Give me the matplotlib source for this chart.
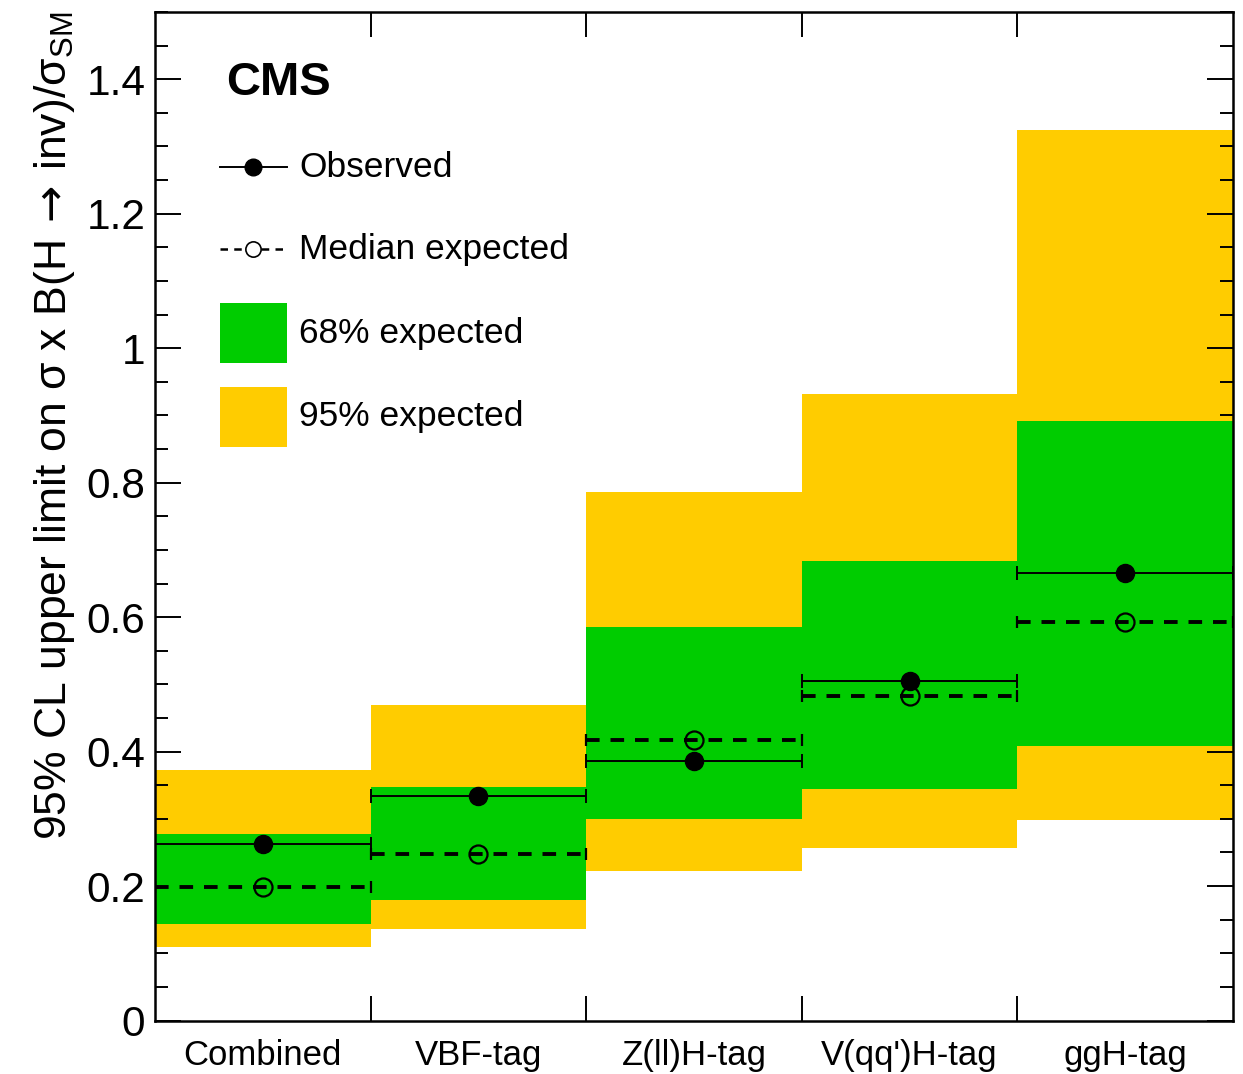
import numpy as np
import matplotlib
matplotlib.use('Agg')
import matplotlib.pyplot as plt
from matplotlib.ticker import MultipleLocator, FixedLocator, FuncFormatter
from matplotlib.patches import Rectangle

plt.rcParams['font.family'] = ['Liberation Sans', 'DejaVu Sans']
plt.rcParams['mathtext.fontset'] = 'custom'
plt.rcParams['mathtext.rm'] = 'Liberation Sans'
plt.rcParams['mathtext.sf'] = 'DejaVu Sans'

# categorias y limites (95% CL)
categorias = ['Combined', 'VBF-tag', 'Z(ll)H-tag', "V(qq')H-tag", 'ggH-tag']
observado = [0.263, 0.334, 0.386, 0.505, 0.666]
esperado = [0.199, 0.248, 0.417, 0.482, 0.593]
banda68_baja = [0.144, 0.179, 0.299, 0.344, 0.408]
banda68_alta = [0.278, 0.347, 0.586, 0.684, 0.892]
banda95_baja = [0.109, 0.136, 0.223, 0.257, 0.298]
banda95_alta = [0.372, 0.470, 0.786, 0.932, 1.324]

verde = '#00cc00'
amarillo = '#ffcc00'

x = np.arange(len(categorias))
obs = np.array(observado)
exp_ = np.array(esperado)
lo68, hi68 = np.array(banda68_baja), np.array(banda68_alta)
lo95, hi95 = np.array(banda95_baja), np.array(banda95_alta)

fig = plt.figure(figsize=(12.43, 10.74), dpi=100)
ax = fig.add_axes([0.1247, 0.0498, 0.8673, 0.939])

# bandas de 95% y 68%
ax.bar(x, hi95 - lo95, bottom=lo95, width=1.0, color=amarillo, linewidth=0, zorder=1)
ax.bar(x, hi68 - lo68, bottom=lo68, width=1.0, color=verde, linewidth=0, zorder=2)

# mediana esperada (linea discontinua, circulo abierto)
eb = ax.errorbar(x, exp_, xerr=0.5, fmt='o', color='black', mfc='none', mec='black',
                 mew=1.6, ms=13, elinewidth=2.8, capsize=4, capthick=2.6, zorder=4)
eb[2][0].set_linestyle((0, (3.5, 2.8)))

# observado (linea continua, circulo lleno)
ax.errorbar(x, obs, xerr=0.5, fmt='o', color='black', ms=13, elinewidth=1.4,
            capsize=5, capthick=1.4, zorder=5)

ax.set_xlim(-0.5, len(categorias) - 0.5)
ax.set_ylim(0, 1.5)

# ejes
for s in ax.spines.values():
    s.set_linewidth(1.8)
ax.set_xticks(x)
ax.set_xticklabels(categorias, fontsize=25)
ax.xaxis.set_minor_locator(FixedLocator(x[:-1] + 0.5))
ax.tick_params(axis='x', which='major', length=0, pad=13)
ax.tick_params(axis='x', which='minor', direction='in', length=18, width=1.4,
               top=True, bottom=True)

ax.yaxis.set_major_locator(MultipleLocator(0.2))
ax.yaxis.set_minor_locator(MultipleLocator(0.05))
ax.yaxis.set_major_formatter(FuncFormatter(lambda v, p: '%g' % round(v, 2)))
ax.tick_params(axis='y', which='major', direction='in', length=19, width=1.4,
               labelsize=30.5, pad=7, left=True, right=True)
ax.tick_params(axis='y', which='minor', direction='in', length=9.5, width=1.4,
               left=True, right=True)

ax.set_ylabel('95% CL upper limit on σ x B(H$\\,\\mathsf{\\rightarrow}\\,$inv)/σ$_{\\mathrm{SM}}$',
              fontsize=32, loc='top', labelpad=7)

ax.text(0.066, 0.93, 'CMS', transform=ax.transAxes, fontsize=34,
        fontweight='bold', ha='left', va='center')

# leyenda dibujada a mano (coordenadas de ejes)
tr = ax.transAxes
lx0, lx1, lxm, ltxt = 0.060, 0.122, 0.091, 0.134
fs_leg = 25.5
y_obs, y_med = 0.846, 0.765
ax.plot([lx0, lx1], [y_obs, y_obs], color='black', lw=1.4, transform=tr, clip_on=False)
ax.plot([lxm], [y_obs], 'o', color='black', ms=12, transform=tr, clip_on=False)
ax.text(ltxt, y_obs, 'Observed', transform=tr, fontsize=fs_leg, va='center')

ax.plot([lx0, lx1], [y_med, y_med], color='black', lw=1.8, ls=(0, (3, 2.5)),
        transform=tr, clip_on=False)
ax.plot([lxm], [y_med], 'o', mfc='white', mec='black', mew=1.2, ms=11,
        transform=tr, clip_on=False)
ax.text(ltxt, y_med, 'Median expected', transform=tr, fontsize=fs_leg, va='center')

for yb, col, txt in [(0.652, verde, '68% expected'), (0.569, amarillo, '95% expected')]:
    ax.add_patch(Rectangle((lx0, yb), lx1 - lx0, 0.059, facecolor=col,
                           edgecolor='none', transform=tr))
    ax.text(ltxt, yb + 0.0295, txt, transform=tr, fontsize=fs_leg, va='center')

fig.savefig('out.png', dpi=100)
